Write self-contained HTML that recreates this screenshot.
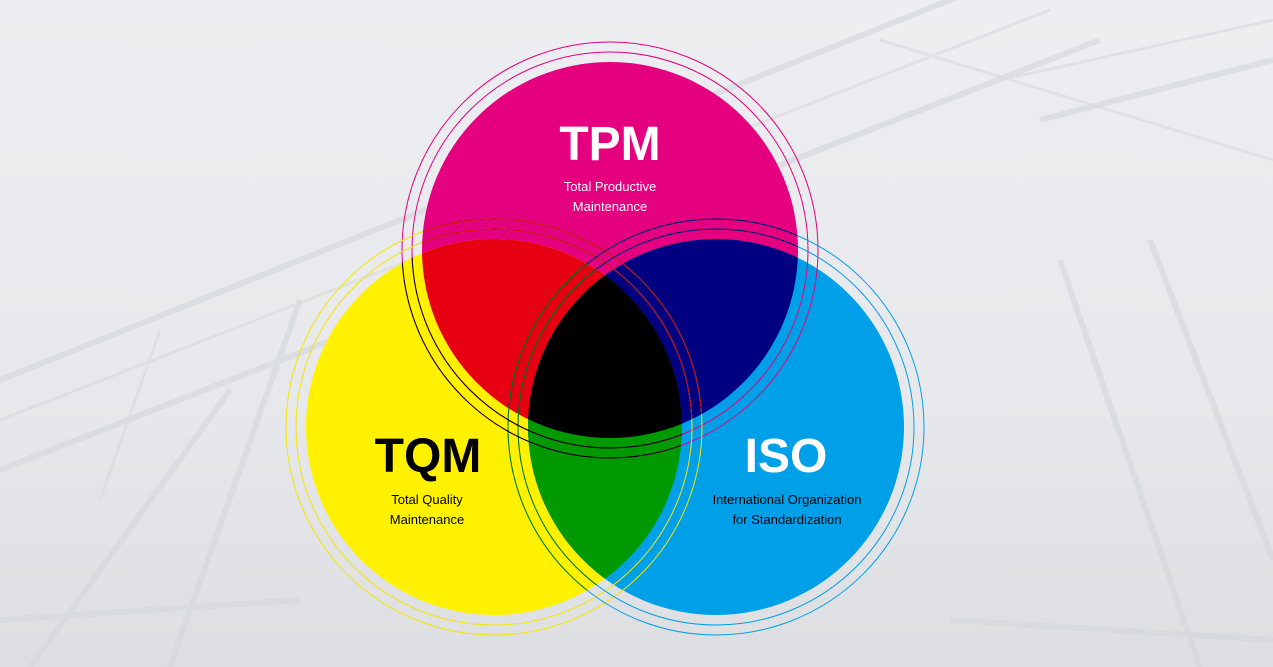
<!DOCTYPE html>
<html><head><meta charset="utf-8"><style>
html,body{margin:0;padding:0;width:1273px;height:667px;overflow:hidden;background:#e7e9ec;}
svg{display:block}
text{font-family:"Liberation Sans","DejaVu Sans",sans-serif;}
</style></head><body>
<svg width="1273" height="667" viewBox="0 0 1273 667" xmlns="http://www.w3.org/2000/svg">
<defs>
<linearGradient id="bg" x1="0" y1="0" x2="0" y2="1">
<stop offset="0" stop-color="#eceef1"/><stop offset="0.6" stop-color="#e6e8eb"/><stop offset="1" stop-color="#dcdee1"/>
</linearGradient>
<clipPath id="cT"><circle cx="610" cy="250" r="188"/></clipPath>
<clipPath id="cQ"><circle cx="494" cy="427" r="188"/></clipPath>
<clipPath id="cI"><circle cx="716" cy="427" r="188"/></clipPath>
</defs>
<rect width="1273" height="667" fill="url(#bg)"/>
<g stroke="#d4d7db" stroke-width="6" fill="none" opacity="0.6">
<line x1="0" y1="380" x2="1000" y2="-20"/>
<line x1="0" y1="470" x2="1100" y2="40"/>
<line x1="30" y1="667" x2="230" y2="390"/>
<line x1="170" y1="667" x2="300" y2="300"/>
<line x1="1040" y1="120" x2="1273" y2="60"/>
<line x1="1060" y1="260" x2="1200" y2="667"/>
<line x1="1150" y1="240" x2="1273" y2="560"/>
<line x1="0" y1="620" x2="300" y2="600"/>
<line x1="950" y1="620" x2="1273" y2="640"/>
</g>
<g stroke="#d8dbde" stroke-width="3" fill="none" opacity="0.6">
<line x1="0" y1="420" x2="1050" y2="10"/>
<line x1="100" y1="500" x2="160" y2="330"/>
<line x1="880" y1="40" x2="1273" y2="160"/>
<line x1="1000" y1="80" x2="1273" y2="20"/>
</g>
<circle cx="610" cy="250" r="188" fill="#e4007f"/>
<circle cx="494" cy="427" r="188" fill="#fff100"/>
<circle cx="716" cy="427" r="188" fill="#00a0e9"/>
<g clip-path="url(#cT)"><circle cx="494" cy="427" r="188" fill="#e60012"/><circle cx="716" cy="427" r="188" fill="#000081"/></g>
<g clip-path="url(#cQ)"><circle cx="716" cy="427" r="188" fill="#009a00"/></g>
<g clip-path="url(#cT)"><g clip-path="url(#cQ)"><circle cx="716" cy="427" r="188" fill="#000"/></g></g>
<g fill="none" stroke-width="1">
<circle cx="610" cy="250" r="198" stroke="#e4007f"/>
<circle cx="610" cy="250" r="208" stroke="#e4007f"/>
<circle cx="494" cy="427" r="198" stroke="#f5e600"/>
<circle cx="494" cy="427" r="208" stroke="#f5e600"/>
<circle cx="716" cy="427" r="198" stroke="#00a0e9"/>
<circle cx="716" cy="427" r="208" stroke="#00a0e9"/>
</g>
<g fill="none" stroke-width="1">
<g clip-path="url(#cT)">
<circle cx="494" cy="427" r="198" stroke="#c00010"/><circle cx="494" cy="427" r="208" stroke="#c00010"/>
<circle cx="716" cy="427" r="198" stroke="#000060"/><circle cx="716" cy="427" r="208" stroke="#000060"/>
</g>
<g clip-path="url(#cQ)">
<circle cx="716" cy="427" r="198" stroke="#007a00"/><circle cx="716" cy="427" r="208" stroke="#007a00"/>
<circle cx="610" cy="250" r="198" stroke="#000"/><circle cx="610" cy="250" r="208" stroke="#000"/>
</g>
</g>
<text x="610" y="160" text-anchor="middle" font-size="48" font-weight="bold" fill="#fff">TPM</text>
<text x="610" y="191" text-anchor="middle" font-size="13" fill="#fff">Total Productive</text>
<text x="610" y="211" text-anchor="middle" font-size="13" fill="#fff">Maintenance</text>
<text x="428" y="472" text-anchor="middle" font-size="48" font-weight="bold" fill="#000">TQM</text>
<text x="427" y="504" text-anchor="middle" font-size="13" fill="#000">Total Quality</text>
<text x="427" y="524" text-anchor="middle" font-size="13" fill="#000">Maintenance</text>
<text x="786" y="472" text-anchor="middle" font-size="48" font-weight="bold" fill="#fff">ISO</text>
<text x="787" y="504" text-anchor="middle" font-size="13" fill="#000">International Organization</text>
<text x="787" y="524" text-anchor="middle" font-size="13" fill="#000">for Standardization</text>
</svg>
</body></html>
